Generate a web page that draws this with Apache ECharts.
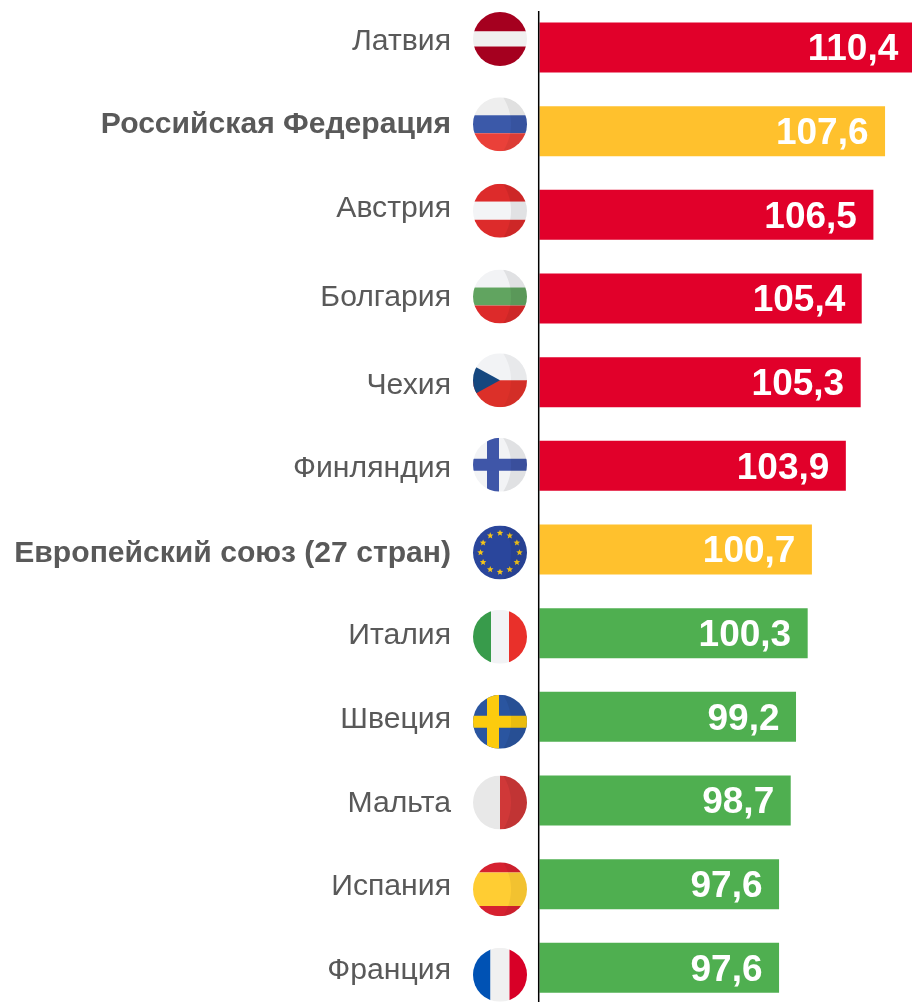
<!DOCTYPE html>
<html>
<head>
<meta charset="utf-8">
<style>
html,body{margin:0;padding:0;background:#fff}
#main{width:912px;height:1002px}
</style>
<script src="https://cdn.jsdelivr.net/npm/echarts@6/dist/echarts.min.js"></script>
</head>
<body>
<div id="main"></div>
<script>
var countries = ['Латвия', 'Российская Федерация', 'Австрия', 'Болгария', 'Чехия', 'Финляндия',
    'Европейский союз (27 стран)', 'Италия', 'Швеция', 'Мальта', 'Испания', 'Франция'];
var values = [110.4, 107.6, 106.5, 105.4, 105.3, 103.9, 100.7, 100.3, 99.2, 98.7, 97.6, 97.6];
var groups = ['up', 'main', 'up', 'up', 'up', 'up', 'main', 'down', 'down', 'down', 'down', 'down'];
var flags = ['lv', 'ru', 'at', 'bg', 'cz', 'fi', 'eu', 'it', 'se', 'mt', 'es', 'fr'];

var groupColor = { up: '#E1002A', main: '#FFC12D', down: '#4FAF50' };
var R = 27;
// names and flags do not sit exactly on the bar centres in the picture
var nameShift = [-5.5, -6, -6, -1, 3, 3, 4, 2.5, 3, 3, 2, 3];
var flagShift = [-8.5, -7, -4, -2, -2, -1, 3, 3.5, 5, 2, 5, 7];

function rect(x, y, w, h, fill) {
    return { type: 'rect', shape: { x: x, y: y, width: w, height: h }, style: { fill: fill } };
}
function hStripes(a, b, c, edge) {
    edge = edge || 9;
    return [rect(-R, -R, 2 * R, R - edge, a), rect(-R, -edge, 2 * R, 2 * edge, b), rect(-R, edge, 2 * R, R - edge, c)];
}
function vStripes(a, b, c, edge) {
    edge = edge || 9;
    return [rect(-R, -R, R - edge, 2 * R, a), rect(-edge, -R, 2 * edge, 2 * R, b), rect(edge, -R, R - edge, 2 * R, c)];
}
function cross(bg, fg) {
    return [rect(-R, -R, 2 * R, 2 * R, bg), rect(-13, -R, 12, 2 * R, fg), rect(-R, -6, 2 * R, 12, fg)];
}
// darker crescent on the right of the ball
function shade(alpha) {
    var pts = [], big = 49.6, cx = -38.6;
    for (var y = -R; y <= R; y += 3) {
        pts.push([cx + Math.sqrt(big * big - y * y), y]);
    }
    pts.push([R + 2, R], [R + 2, -R]);
    return { type: 'polygon', shape: { points: pts }, style: { fill: 'rgba(0,0,0,' + alpha + ')' } };
}
function star(cx, cy, r, fill) {
    var pts = [];
    for (var i = 0; i < 10; i++) {
        var a = -Math.PI / 2 + i * Math.PI / 5, d = i % 2 ? r * 0.45 : r;
        pts.push([cx + d * Math.cos(a), cy + d * Math.sin(a)]);
    }
    return { type: 'polygon', shape: { points: pts }, style: { fill: fill } };
}
function flagParts(code) {
    var parts = [];
    if (code == 'lv') parts = hStripes('#A5001F', '#F0F0F0', '#A5001F', 7.5);
    if (code == 'ru') parts = hStripes('#EEEEEE', '#3B59A9', '#EA4039').concat(shade(0.06));
    if (code == 'at') parts = hStripes('#DD2B2B', '#F3F4F6', '#DD2B2B').concat(shade(0.07));
    if (code == 'bg') parts = hStripes('#F2F3F5', '#61A460', '#DD2A2A').concat(shade(0.07));
    if (code == 'cz') {
        parts = [rect(-R, -R, 2 * R, R, '#F2F3F5'), rect(-R, 0, 2 * R, R, '#DC3029'),
            { type: 'polygon', shape: { points: [[0, 0], [-31, -17], [-31, 17]] }, style: { fill: '#15477F' } },
            shade(0.04)];
    }
    if (code == 'fi') parts = cross('#F2F3F5', '#3F56A8').concat(shade(0.07));
    if (code == 'eu') {
        parts = [rect(-R, -R, 2 * R, 2 * R, '#2A469C')];
        for (var i = 0; i < 12; i++) {
            var a = i * Math.PI / 6;
            parts.push(star(19.5 * Math.sin(a), -19.5 * Math.cos(a), 3.4, '#F5C518'));
        }
        parts.push(shade(0.06));
    }
    if (code == 'it') parts = vStripes('#389B4B', '#F2F3F5', '#E9302A');
    if (code == 'se') parts = cross('#2A55A0', '#FCCB0E').concat(shade(0.07));
    if (code == 'mt') parts = [rect(-R, -R, R, 2 * R, '#E8E8E8'), rect(0, -R, R, 2 * R, '#D03838'), shade(0.07)];
    if (code == 'es') parts = hStripes('#D62130', '#FFCD33', '#D62130', 16.7).concat(shade(0.05));
    if (code == 'fr') parts = vStripes('#0052B4', '#F0F0F0', '#D80027', 9.5);
    return parts;
}

var myChart = echarts.init(document.getElementById('main'));

var option = {
    animation: false,
    backgroundColor: '#fff',
    textStyle: { fontFamily: '"Liberation Sans", Arial, sans-serif' },
    grid: { left: 539.5, top: 5.7, width: 424, height: 1004, outerBoundsMode: 'none' },
    xAxis: { type: 'value', min: 75, max: 115, show: false },
    yAxis: { type: 'category', inverse: true, data: countries, show: false },
    series: [
        {
            type: 'bar',
            barWidth: 50,
            data: values.map(function (v, i) {
                return { value: v, itemStyle: { color: groupColor[groups[i]] } };
            }),
            label: {
                show: true,
                position: 'insideRight',
                distance: 16.5,
                offset: [0, 2.5],
                color: '#fff',
                fontSize: 37,
                fontWeight: 'bold',
                formatter: function (p) { return p.value.toFixed(1).replace('.', ','); }
            }
        },
        {
            // country names and flags, left of the bars
            type: 'custom',
            silent: true,
            data: countries.map(function (name, i) { return [75, name]; }),
            encode: { x: 0, y: 1 },
            renderItem: function (params, api) {
                var i = params.dataIndex;
                var c = api.coord([75, i]);
                var bold = groups[i] == 'main';
                return {
                    type: 'group',
                    children: [
                        {
                            type: 'text',
                            x: c[0] - 88.5,
                            y: c[1] + nameShift[i],
                            style: {
                                text: countries[i],
                                fill: '#595959',
                                fontFamily: '"Liberation Sans", Arial, sans-serif',
                                fontSize: bold ? 30.1 : 30.2,
                                fontWeight: bold ? 'bold' : 'normal',
                                align: 'right',
                                verticalAlign: 'middle'
                            }
                        },
                        {
                            type: 'group',
                            x: c[0] - 39.5,
                            y: c[1] + flagShift[i],
                            clipPath: { type: 'circle', shape: { cx: 0, cy: 0, r: R } },
                            children: flagParts(flags[i])
                        }
                    ]
                };
            }
        }
    ],
    graphic: [{
        type: 'line',
        z: 100,
        shape: { x1: 538.7, y1: 11, x2: 538.7, y2: 1002 },
        style: { stroke: '#000', lineWidth: 1.5 }
    }]
};

myChart.setOption(option);
</script>
</body>
</html>
